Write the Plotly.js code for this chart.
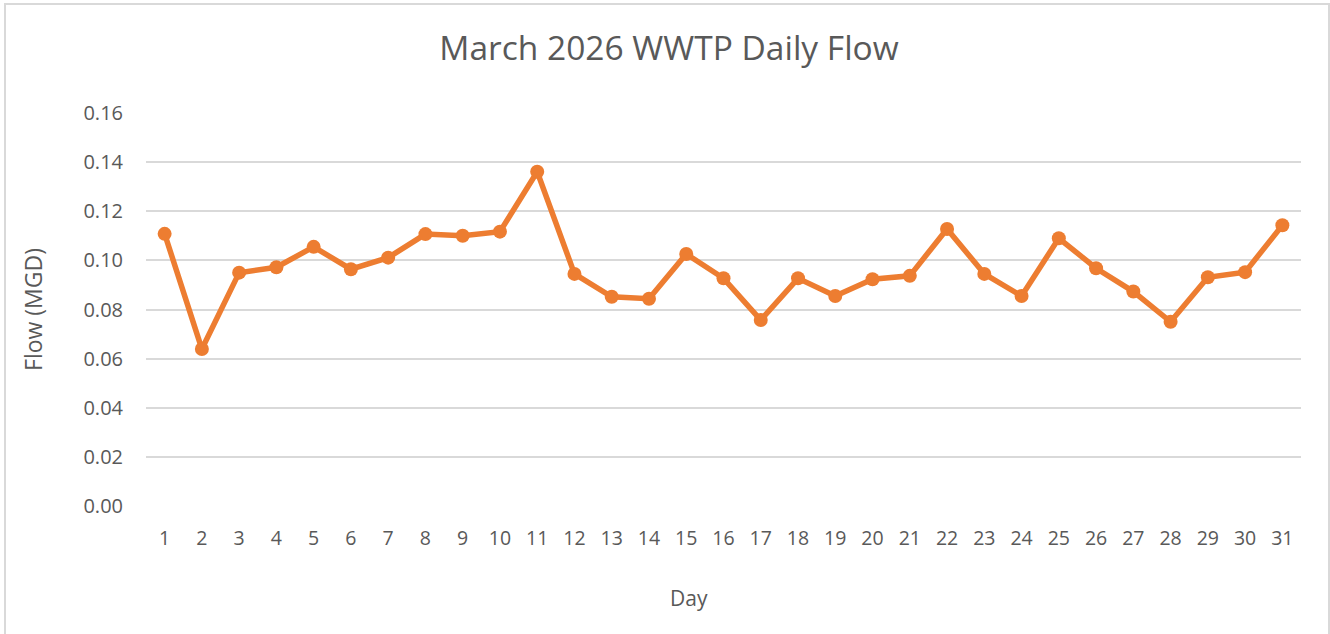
<!DOCTYPE html>
<html>
<head>
<meta charset="utf-8">
<script src="https://cdn.plot.ly/plotly-3.0.1.min.js"></script>
<style>
  html, body { margin: 0; padding: 0; background: #ffffff; }
  #chart { width: 1330px; height: 634px; }
</style>
</head>
<body>
<div id="chart"></div>
<script>
const days = ['1','2','3','4','5','6','7','8','9','10','11','12','13','14','15','16','17','18','19','20','21','22','23','24','25','26','27','28','29','30','31'];
const flowMGD = [0.1108, 0.0639, 0.0950, 0.0972, 0.1055, 0.0964, 0.1011, 0.1107, 0.1100, 0.1117,
                 0.1361, 0.0945, 0.0852, 0.0844, 0.1026, 0.0927, 0.0757, 0.0927, 0.0855, 0.0923,
                 0.0937, 0.1128, 0.0945, 0.0855, 0.1090, 0.0968, 0.0873, 0.0750, 0.0931, 0.0952, 0.1143];
const yTicks = [0, 0.02, 0.04, 0.06, 0.08, 0.10, 0.12, 0.14, 0.16];

const FONT = 'Open Sans, Noto Sans, sans-serif';
const TXT = '#595959';

const trace = {
  x: days,
  y: flowMGD,
  type: 'scatter',
  mode: 'lines+markers',
  line: { color: '#ED7D31', width: 5.5 },
  marker: { color: '#ED7D31', size: 14 },
  hoverinfo: 'x+y',
  showlegend: false
};

const L = 146, R = 1301, T = 113, B = 506, W = 1330, H = 634;
const pw = R - L, ph = B - T;

const layout = {
  width: W, height: H,
  margin: { l: L, r: W - R, t: T, b: H - B, pad: 0 },
  paper_bgcolor: '#ffffff',
  plot_bgcolor: '#ffffff',
  font: { family: FONT, color: TXT, size: 19 },
  title: {
    text: 'March 2026 WWTP Daily Flow',
    font: { family: FONT, size: 33.5, color: TXT },
    x: 669 / W, xanchor: 'center',
    y: 1 - 48 / H, yanchor: 'middle'
  },
  xaxis: {
    type: 'category',
    range: [-0.5, days.length - 0.5],
    autorange: false,
    showgrid: false,
    zeroline: false,
    showline: false,
    ticks: '',
    ticklabelstandoff: 18,
    tickfont: { family: FONT, size: 19.5, color: TXT },
    fixedrange: true
  },
  yaxis: {
    range: [0, 0.16],
    autorange: false,
    tickvals: yTicks,
    tickformat: '.2f',
    showgrid: true,
    gridcolor: '#d9d9d9',
    gridwidth: 1.5,
    zeroline: false,
    showline: false,
    ticks: '',
    ticklabelstandoff: 22,
    tickfont: { family: FONT, size: 20, color: TXT },
    title: { text: 'Flow (MGD)', font: { family: FONT, size: 23, color: TXT }, standoff: 34 },
    fixedrange: true
  },
  annotations: [{
    text: 'Day',
    xref: 'paper', yref: 'paper',
    x: (689 - L) / pw, y: -(598 - B) / ph,
    xanchor: 'center', yanchor: 'middle',
    showarrow: false,
    font: { family: FONT, size: 21, color: TXT }
  }],
  shapes: [{
    type: 'rect', xref: 'paper', yref: 'paper',
    x0: (5 - L) / pw, x1: (1329 - L) / pw,
    y0: -(640 - B) / ph, y1: (B - 4) / ph,
    line: { color: '#d9d9d9', width: 2 },
    fillcolor: 'rgba(0,0,0,0)',
    layer: 'below'
  }]
};

Plotly.newPlot('chart', [trace], layout, { displayModeBar: false });
</script>
</body>
</html>
